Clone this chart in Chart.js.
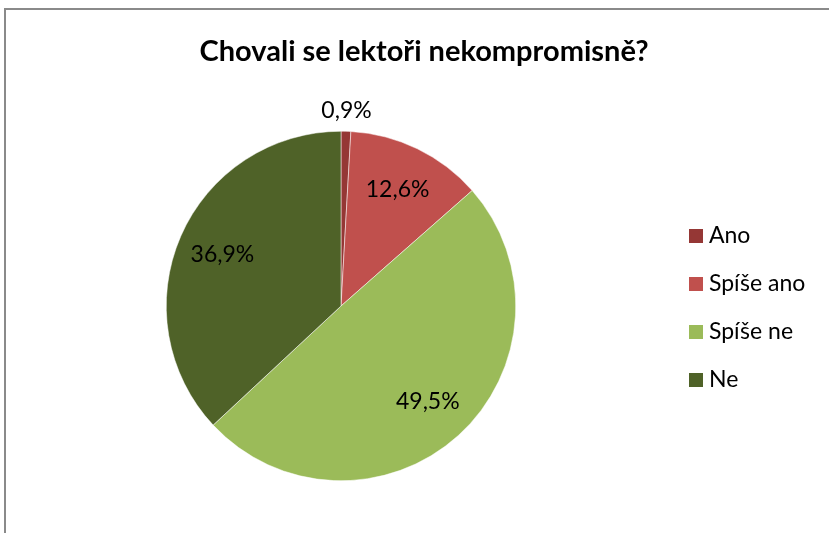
<!DOCTYPE html>
<html>
<head>
<meta charset="utf-8">
<script src="https://cdn.jsdelivr.net/npm/chart.js@4/dist/chart.umd.min.js"></script>
<style>
  html, body { margin: 0; padding: 0; background: #fff; overflow: hidden; }
  #wrap { position: relative; width: 829px; height: 533px; }
  #frame { position: absolute; left: 4px; top: 8px; width: 900px; height: 600px; border: 2px solid #8a8a8a; box-sizing: border-box; }
  canvas { position: absolute; left: 0; top: 0; }
</style>
</head>
<body>
<div id="wrap">
  <div id="frame"></div>
  <canvas id="pieChart" width="829" height="533"></canvas>
</div>
<script>
/* ---- データ ---- */
const title = "Chovali se lektoři nekompromisně?";
const categories = ["Ano", "Spíše ano", "Spíše ne", "Ne"];
const values = [0.9, 12.6, 49.5, 36.9];
const colors = ["#953735", "#C0504D", "#9BBB59", "#4F6228"];

const FONT = "Lato, 'Open Sans', sans-serif";

// タイトル・ラベル・凡例を描くプラグイン
const decorations = {
  id: "decorations",
  afterDraw(chart) {
    const ctx = chart.ctx;
    ctx.save();
    // タイトル
    ctx.fillStyle = "#000";
    ctx.font = "bold 29px " + FONT;
    ctx.textAlign = "center";
    ctx.textBaseline = "middle";
    ctx.fillText(title, 424, 52);

    // データラベル
    ctx.font = "23px " + FONT;
    const meta = chart.getDatasetMeta(0);
    meta.data.forEach((arc, i) => {
      const p = arc.getProps(["x", "y", "startAngle", "endAngle", "outerRadius"], true);
      const mid = (p.startAngle + p.endAngle) / 2;
      const r = values[i] < 3 ? p.outerRadius * 1.12 : p.outerRadius * 0.74;
      const x = p.x + Math.cos(mid) * r;
      const y = p.y + Math.sin(mid) * r;
      ctx.fillText(values[i].toFixed(1).replace(".", ",") + "%", x, y);
    });

    // 凡例
    ctx.textAlign = "left";
    categories.forEach((c, i) => {
      const y = 236 + i * 48;
      ctx.fillStyle = colors[i];
      ctx.fillRect(689, y - 7, 14, 14);
      ctx.fillStyle = "#000";
      ctx.fillText(c, 709, y);
    });
    ctx.restore();
  }
};

new Chart(document.getElementById("pieChart"), {
  type: "pie",
  data: {
    labels: categories,
    datasets: [{
      data: values,
      backgroundColor: colors,
      borderColor: "#ffffff",
      borderWidth: 0.5
    }]
  },
  options: {
    responsive: false,
    animation: false,
    layout: { padding: { left: 166, right: 313, top: 131, bottom: 52 } },
    plugins: {
      legend: { display: false },
      tooltip: { enabled: false },
      title: { display: false }
    }
  },
  plugins: [decorations]
});
</script>
</body>
</html>
